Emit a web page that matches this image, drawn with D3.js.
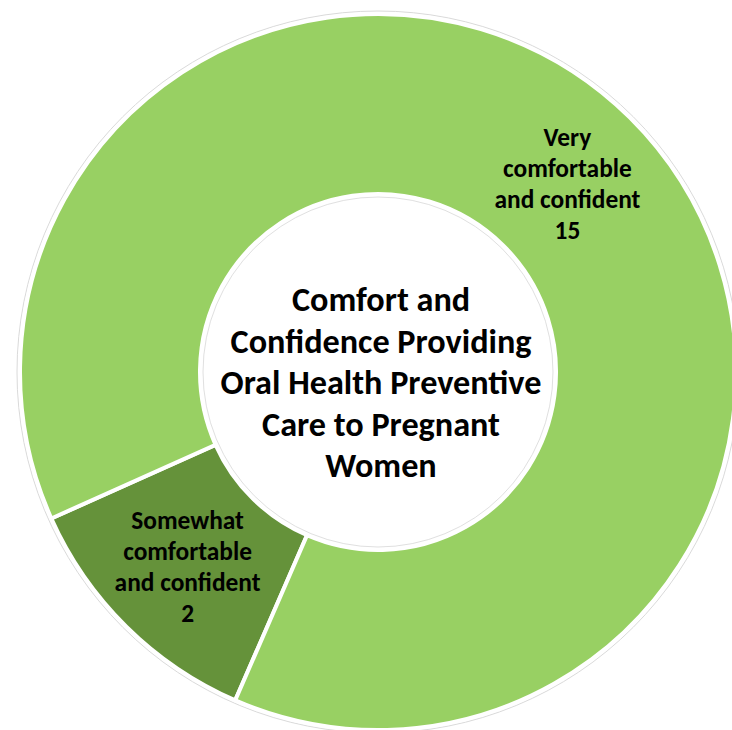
<!DOCTYPE html>
<html><head><meta charset="utf-8">
<script src="https://cdn.jsdelivr.net/npm/d3@7/dist/d3.min.js"></script>
<style>html,body{margin:0;padding:0;background:#fff;}svg{display:block;}</style>
</head><body>
<svg id="chart" width="732" height="730"></svg>
<script>
const categories = ["Somewhat comfortable and confident", "Very comfortable and confident"];
const labelLines = [["Somewhat", "comfortable", "and confident"], ["Very", "comfortable", "and confident"]];
const values = [2, 15];
const colors = ["#65923A", "#98D063"];
const titleLines = ["Comfort and", "Confidence Providing", "Oral Health Preventive", "Care to Pregnant", "Women"];

const svg = d3.select("#chart");
const cx = 378, cy = 372, R = 358, r = 178;
const g = svg.append("g").attr("transform", `translate(${cx},${cy})`);

const start = 203.5 * Math.PI / 180;
const pie = d3.pie().sort(null).value(d => d).startAngle(start).endAngle(start + 2 * Math.PI);
const arcs = pie(values);
const arc = d3.arc().innerRadius(r).outerRadius(R);

g.append("circle").attr("r", R + 3).attr("fill", "none").attr("stroke", "#dadada").attr("stroke-width", 1);
g.append("circle").attr("r", r - 3).attr("fill", "none").attr("stroke", "#e0e0e0").attr("stroke-width", 1);

g.selectAll("path.slice").data(arcs).join("path")
  .attr("class", "slice")
  .attr("d", arc)
  .attr("fill", (d, i) => colors[i])
  .attr("stroke", "#fff")
  .attr("stroke-width", 4)
  .attr("stroke-linejoin", "miter");

const font = "Calibri, Carlito, 'Open Sans', sans-serif";

function fitSize(text, target, base) {
  const t = svg.append("text").attr("font-family", font).attr("font-weight", "bold")
    .attr("font-size", base).text(text);
  const w = t.node().getComputedTextLength();
  t.remove();
  return base * target / w;
}
const labelSize = fitSize("and confident", 146, 20);
const titleSize = fitSize("Oral Health Preventive", 321, 28);

const labelArc = d3.arc().innerRadius(r).outerRadius(R);
const offsets = [[-2, 6], [1, 4]];
arcs.forEach((d, i) => {
  const [x, y] = labelArc.centroid(d);
  const lines = labelLines[i].concat([String(values[i])]);
  const lh = 31;
  const t = g.append("text")
    .attr("text-anchor", "middle")
    .attr("font-family", font)
    .attr("font-weight", "bold")
    .attr("font-size", labelSize)
    .attr("fill", "#000");
  lines.forEach((ln, k) => {
    t.append("tspan")
      .attr("x", x + offsets[i][0])
      .attr("y", y + offsets[i][1] + (k - (lines.length - 1) / 2) * lh + 7)
      .text(ln);
  });
});

const tt = g.append("text")
  .attr("text-anchor", "middle")
  .attr("font-family", font)
  .attr("font-weight", "bold")
  .attr("font-size", titleSize)
  .attr("fill", "#000");
titleLines.forEach((ln, k) => {
  tt.append("tspan").attr("x", 3).attr("y", 22 + (k - 2) * 41.5).text(ln);
});
</script>
</body></html>
